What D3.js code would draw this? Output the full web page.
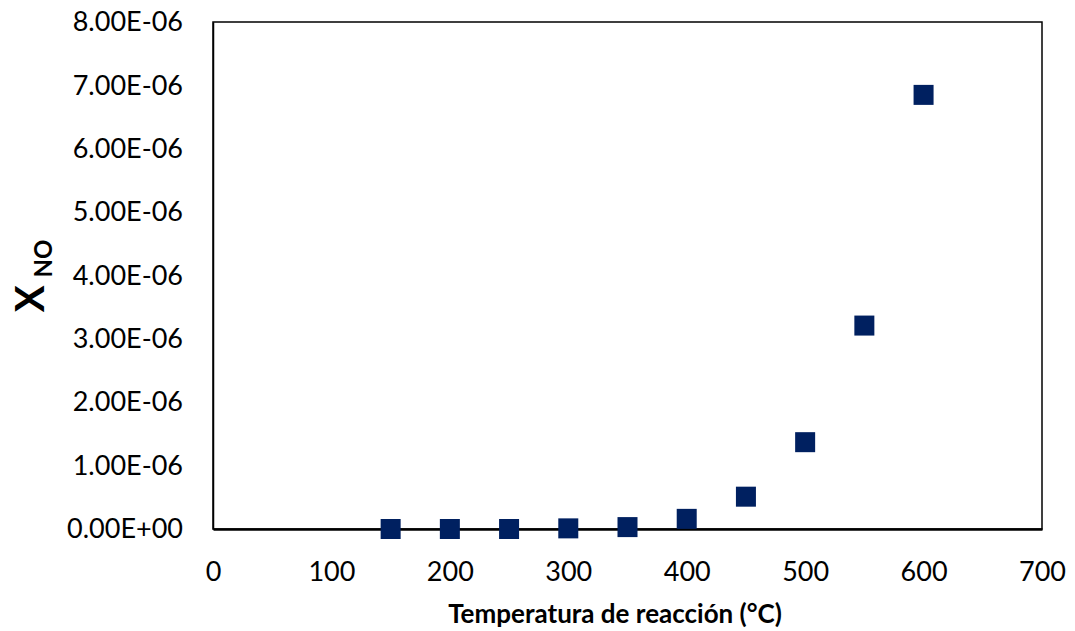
<!DOCTYPE html>
<html><head><meta charset="utf-8">
<script src="https://cdn.jsdelivr.net/npm/d3@7"></script>
<style>body{margin:0;background:#fff}svg{display:block}</style>
</head><body>
<script>
const temps = [150, 200, 250, 300, 350, 400, 450, 500, 550, 600];
const xNO = [0, 0, 0, 0.01e-6, 0.03e-6, 0.16e-6, 0.51e-6, 1.37e-6, 3.21e-6, 6.85e-6];
const xTicks = [0, 100, 200, 300, 400, 500, 600, 700];
const yTicks = [0, 1e-6, 2e-6, 3e-6, 4e-6, 5e-6, 6e-6, 7e-6, 8e-6];
const xTitle = "Temperatura de reacción (°C)";

const W = 1075, H = 631;
const m = {l: 213, r: 1042, t: 22, b: 529};
const svg = d3.select("body").append("svg").attr("width", W).attr("height", H);
const x = d3.scaleLinear().domain([0, 700]).range([m.l, m.r]);
const y = d3.scaleLinear().domain([0, 8e-6]).range([m.b, m.t]);
const font = "Lato, 'Open Sans', sans-serif";

const fmt = v => v === 0 ? "0.00E+00" : (v / 1e-6).toFixed(2) + "E-06";

svg.append("rect").attr("x", m.l).attr("y", m.t).attr("width", m.r - m.l).attr("height", m.b - m.t)
  .attr("fill", "none").attr("stroke", "#000").attr("stroke-width", 1.5);

const gx = svg.append("g").attr("transform", `translate(0,${m.b})`)
  .call(d3.axisBottom(x).tickValues(xTicks).tickSize(0).tickPadding(33).tickFormat(d3.format("d")));
gx.select(".domain").attr("stroke", "#000").attr("stroke-width", 2.5);
gx.selectAll("text").attr("font-family", font).attr("font-size", 27).attr("fill", "#000");

const gy = svg.append("g").attr("transform", `translate(${m.l},0)`)
  .call(d3.axisLeft(y).tickValues(yTicks).tickSize(0).tickPadding(30).tickFormat(fmt));
gy.select(".domain").attr("stroke", "#000").attr("stroke-width", 1.5);
gy.selectAll("text").attr("font-family", font).attr("font-size", 27).attr("fill", "#000");

const s = 20;
svg.append("g").selectAll("rect").data(temps).join("rect")
  .attr("x", (d) => x(d) - s / 2)
  .attr("y", (d, i) => y(xNO[i]) - s / 2)
  .attr("width", s).attr("height", s).attr("fill", "#002060");

svg.append("text").attr("x", 615).attr("y", 623)
  .attr("text-anchor", "middle").attr("font-family", font).attr("font-weight", "bold")
  .attr("font-size", 26).attr("fill", "#000").text(xTitle);

const yt = svg.append("text").attr("transform", "translate(44,276) rotate(-90)")
  .attr("text-anchor", "middle").attr("font-family", font).attr("font-weight", "bold").attr("fill", "#000");
yt.append("tspan").attr("font-size", 40).text("X");
yt.append("tspan").attr("font-size", 24).attr("dx", 8).attr("dy", 8).text("NO");
</script>
</body></html>
